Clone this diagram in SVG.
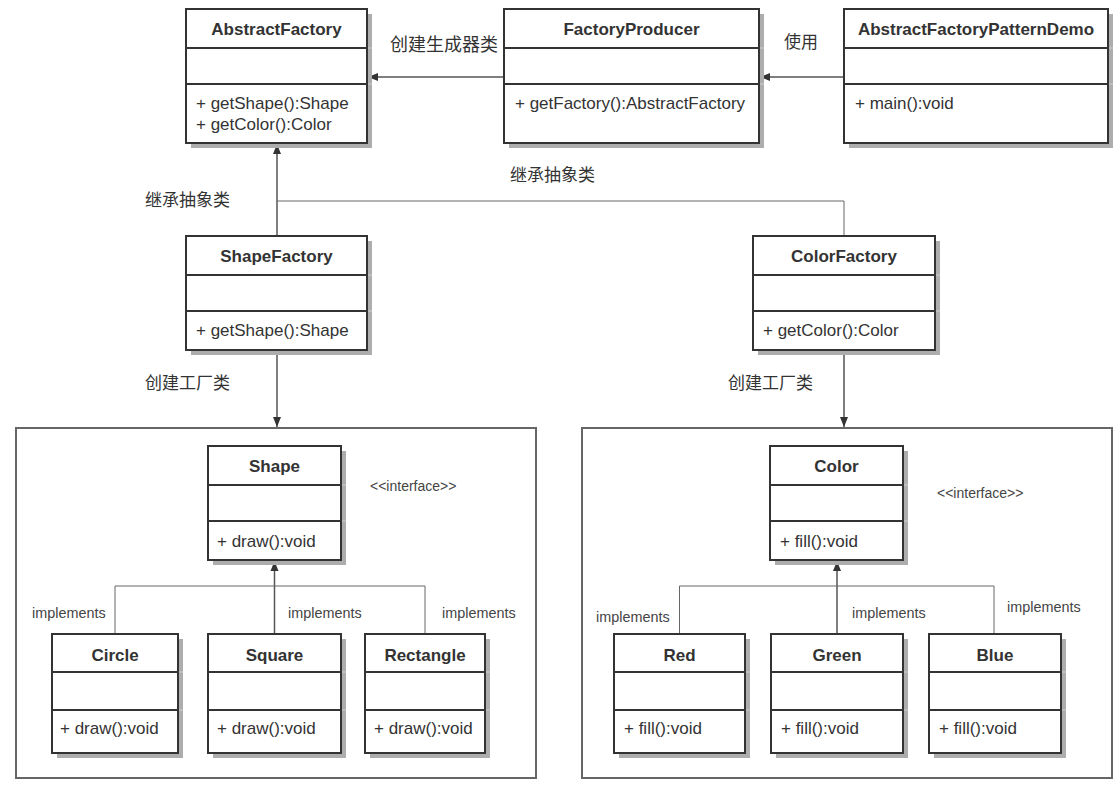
<svg xmlns="http://www.w3.org/2000/svg" width="1117" height="790" viewBox="0 0 1117 790">
<defs>
<style>
.sh{fill:#adadad}
.bx{fill:#fff;stroke:#333;stroke-width:2}
.dv{stroke:#333;stroke-width:2}
.tk{stroke:#cfcfcf;stroke-width:1}
.t{font-family:"Liberation Sans",Arial,sans-serif;font-size:17px;fill:#333;font-weight:bold;text-anchor:middle}
.m{font-family:"Liberation Sans",Arial,sans-serif;font-size:17px;fill:#333}
.im{font-family:"Liberation Sans",Arial,sans-serif;font-size:14.4px;fill:#444}
.it{font-family:"Liberation Sans",Arial,sans-serif;font-size:14px;fill:#444}
.cn{font-family:"Liberation Sans","Noto Sans CJK SC",sans-serif;font-size:17px;fill:#333}
.ln{fill:none;stroke:#555;stroke-width:1.5}
.lt{fill:none;stroke:#666;stroke-width:1}
.ct{fill:none;stroke:#666;stroke-width:2}
</style>
<marker id="ah" viewBox="0 0 10 10" refX="10" refY="5" markerWidth="10" markerHeight="10" markerUnits="userSpaceOnUse" orient="auto">
<path d="M0,1 L10,5 L0,9 Z" fill="#333"/>
</marker>
</defs>
<rect width="1117" height="790" fill="#fff"/>

<g id="container-shape"><rect class="ct" x="16" y="428" width="520" height="350"/></g>
<g id="container-color"><rect class="ct" x="582" y="428" width="530" height="350"/></g>

<g id="connectors">
<line class="ln" x1="504" y1="77" x2="368" y2="77" marker-end="url(#ah)"/>
<line class="ln" x1="844" y1="77" x2="760" y2="77" marker-end="url(#ah)"/>
<line class="ln" x1="277" y1="236" x2="277" y2="144" marker-end="url(#ah)"/>
<polyline class="lt" points="277,201 844,201 844,236"/>
<line class="ln" x1="277" y1="350" x2="277" y2="427" marker-end="url(#ah)"/>
<line class="ln" x1="844" y1="350" x2="844" y2="427" marker-end="url(#ah)"/>
<line class="ln" x1="274.5" y1="634" x2="274.5" y2="561" marker-end="url(#ah)"/>
<polyline class="lt" points="115,634 115,586 425,586 425,634"/>
<line class="ln" x1="837" y1="634" x2="837" y2="561" marker-end="url(#ah)"/>
<polyline class="lt" points="679.5,634 679.5,586 994,586 994,634"/>
<text class="cn" x="390" y="51" style="font-size:18px">创建生成器类</text>
<text class="cn" x="784" y="48" style="font-size:17px">使用</text>
<text class="cn" x="145" y="206">继承抽象类</text>
<text class="cn" x="510" y="181">继承抽象类</text>
<text class="cn" x="145" y="389">创建工厂类</text>
<text class="cn" x="728" y="389">创建工厂类</text>
<text class="im" x="32" y="618">implements</text>
<text class="im" x="288" y="618">implements</text>
<text class="im" x="442" y="618">implements</text>
<text class="im" x="596" y="622">implements</text>
<text class="im" x="852" y="618">implements</text>
<text class="im" x="1007" y="612">implements</text>
<text class="it" x="370" y="491">&lt;&lt;interface&gt;&gt;</text>
<text class="it" x="937" y="498">&lt;&lt;interface&gt;&gt;</text>
</g>

<g id="AbstractFactory">
<rect class="sh" x="191" y="14" width="181" height="134"/>
<line class="tk" x1="367" y1="48" x2="372" y2="48"/><line class="tk" x1="367" y1="84" x2="372" y2="84"/>
<rect class="bx" x="186" y="9" width="181" height="134"/>
<line class="dv" x1="186" y1="48" x2="367" y2="48"/><line class="dv" x1="186" y1="84" x2="367" y2="84"/>
<text class="t" x="276.5" y="35">AbstractFactory</text>
<text class="m" x="196" y="109">+ getShape():Shape</text>
<text class="m" x="196" y="130">+ getColor():Color</text>
</g>

<g id="FactoryProducer">
<rect class="sh" x="509" y="14" width="255" height="134"/>
<line class="tk" x1="759" y1="48" x2="764" y2="48"/><line class="tk" x1="759" y1="84" x2="764" y2="84"/>
<rect class="bx" x="504" y="9" width="255" height="134"/>
<line class="dv" x1="504" y1="48" x2="759" y2="48"/><line class="dv" x1="504" y1="84" x2="759" y2="84"/>
<text class="t" x="631.5" y="35">FactoryProducer</text>
<text class="m" x="515" y="109">+ getFactory():AbstractFactory</text>
</g>

<g id="AbstractFactoryPatternDemo">
<rect class="sh" x="849" y="14" width="264" height="134"/>
<line class="tk" x1="1108" y1="48" x2="1113" y2="48"/><line class="tk" x1="1108" y1="84" x2="1113" y2="84"/>
<rect class="bx" x="844" y="9" width="264" height="134"/>
<line class="dv" x1="844" y1="48" x2="1108" y2="48"/><line class="dv" x1="844" y1="84" x2="1108" y2="84"/>
<text class="t" x="976" y="35">AbstractFactoryPatternDemo</text>
<text class="m" x="855" y="109">+ main():void</text>
</g>

<g id="ShapeFactory">
<rect class="sh" x="191" y="241" width="181" height="114"/>
<line class="tk" x1="367" y1="275" x2="372" y2="275"/><line class="tk" x1="367" y1="311" x2="372" y2="311"/>
<rect class="bx" x="186" y="236" width="181" height="114"/>
<line class="dv" x1="186" y1="275" x2="367" y2="275"/><line class="dv" x1="186" y1="311" x2="367" y2="311"/>
<text class="t" x="276.5" y="262">ShapeFactory</text>
<text class="m" x="196" y="336">+ getShape():Shape</text>
</g>

<g id="ColorFactory">
<rect class="sh" x="758" y="241" width="182" height="114"/>
<line class="tk" x1="935" y1="275" x2="940" y2="275"/><line class="tk" x1="935" y1="311" x2="940" y2="311"/>
<rect class="bx" x="753" y="236" width="182" height="114"/>
<line class="dv" x1="753" y1="275" x2="935" y2="275"/><line class="dv" x1="753" y1="311" x2="935" y2="311"/>
<text class="t" x="844" y="262">ColorFactory</text>
<text class="m" x="763" y="336">+ getColor():Color</text>
</g>

<g id="Shape">
<rect class="sh" x="213" y="451" width="133" height="114"/>
<line class="tk" x1="341" y1="485" x2="346" y2="485"/><line class="tk" x1="341" y1="521" x2="346" y2="521"/>
<rect class="bx" x="208" y="446" width="133" height="114"/>
<line class="dv" x1="208" y1="485" x2="341" y2="485"/><line class="dv" x1="208" y1="521" x2="341" y2="521"/>
<text class="t" x="274.5" y="472">Shape</text>
<text class="m" x="217" y="547">+ draw():void</text>
</g>

<g id="Circle">
<rect class="sh" x="57" y="639" width="126" height="119"/>
<line class="tk" x1="178" y1="672" x2="183" y2="672"/><line class="tk" x1="178" y1="710" x2="183" y2="710"/>
<rect class="bx" x="52" y="634" width="126" height="119"/>
<line class="dv" x1="52" y1="672" x2="178" y2="672"/><line class="dv" x1="52" y1="710" x2="178" y2="710"/>
<text class="t" x="115" y="661">Circle</text>
<text class="m" x="60" y="734">+ draw():void</text>
</g>

<g id="Square">
<rect class="sh" x="213" y="639" width="133" height="119"/>
<line class="tk" x1="341" y1="672" x2="346" y2="672"/><line class="tk" x1="341" y1="710" x2="346" y2="710"/>
<rect class="bx" x="208" y="634" width="133" height="119"/>
<line class="dv" x1="208" y1="672" x2="341" y2="672"/><line class="dv" x1="208" y1="710" x2="341" y2="710"/>
<text class="t" x="274.5" y="661">Square</text>
<text class="m" x="217" y="734">+ draw():void</text>
</g>

<g id="Rectangle">
<rect class="sh" x="370" y="639" width="120" height="119"/>
<line class="tk" x1="485" y1="672" x2="490" y2="672"/><line class="tk" x1="485" y1="710" x2="490" y2="710"/>
<rect class="bx" x="365" y="634" width="120" height="119"/>
<line class="dv" x1="365" y1="672" x2="485" y2="672"/><line class="dv" x1="365" y1="710" x2="485" y2="710"/>
<text class="t" x="425" y="661">Rectangle</text>
<text class="m" x="374" y="734">+ draw():void</text>
</g>

<g id="Color">
<rect class="sh" x="775" y="451" width="133" height="114"/>
<line class="tk" x1="903" y1="485" x2="908" y2="485"/><line class="tk" x1="903" y1="521" x2="908" y2="521"/>
<rect class="bx" x="770" y="446" width="133" height="114"/>
<line class="dv" x1="770" y1="485" x2="903" y2="485"/><line class="dv" x1="770" y1="521" x2="903" y2="521"/>
<text class="t" x="836.5" y="472">Color</text>
<text class="m" x="780" y="547">+ fill():void</text>
</g>

<g id="Red">
<rect class="sh" x="619" y="639" width="131" height="119"/>
<line class="tk" x1="745" y1="672" x2="750" y2="672"/><line class="tk" x1="745" y1="710" x2="750" y2="710"/>
<rect class="bx" x="614" y="634" width="131" height="119"/>
<line class="dv" x1="614" y1="672" x2="745" y2="672"/><line class="dv" x1="614" y1="710" x2="745" y2="710"/>
<text class="t" x="679.5" y="661">Red</text>
<text class="m" x="624" y="734">+ fill():void</text>
</g>

<g id="Green">
<rect class="sh" x="776" y="639" width="132" height="119"/>
<line class="tk" x1="903" y1="672" x2="908" y2="672"/><line class="tk" x1="903" y1="710" x2="908" y2="710"/>
<rect class="bx" x="771" y="634" width="132" height="119"/>
<line class="dv" x1="771" y1="672" x2="903" y2="672"/><line class="dv" x1="771" y1="710" x2="903" y2="710"/>
<text class="t" x="837" y="661">Green</text>
<text class="m" x="781" y="734">+ fill():void</text>
</g>

<g id="Blue">
<rect class="sh" x="934" y="639" width="132" height="119"/>
<line class="tk" x1="1061" y1="672" x2="1066" y2="672"/><line class="tk" x1="1061" y1="710" x2="1066" y2="710"/>
<rect class="bx" x="929" y="634" width="132" height="119"/>
<line class="dv" x1="929" y1="672" x2="1061" y2="672"/><line class="dv" x1="929" y1="710" x2="1061" y2="710"/>
<text class="t" x="995" y="661">Blue</text>
<text class="m" x="939" y="734">+ fill():void</text>
</g>
</svg>
